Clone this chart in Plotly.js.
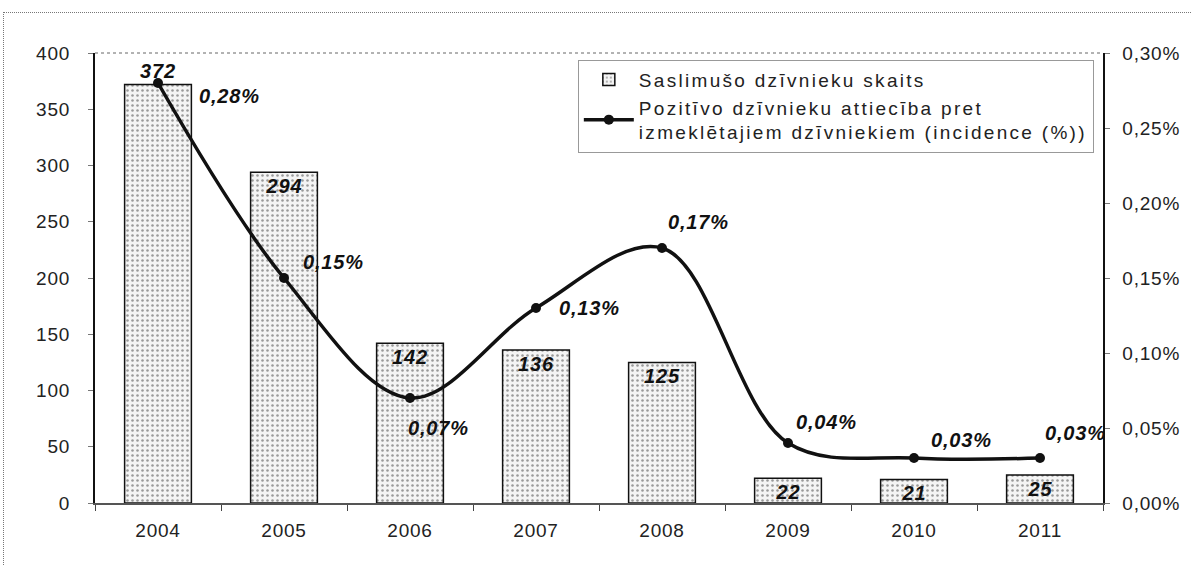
<!DOCTYPE html>
<html><head><meta charset="utf-8">
<script src="https://cdn.plot.ly/plotly-3.0.1.min.js"></script>
<style>
html,body{margin:0;padding:0;background:#fff;}
#frame{position:absolute;left:3px;top:12px;width:1189px;height:554px;border-top:1px dotted #777;border-left:1px dotted #777;pointer-events:none;}
#chart{width:1192px;height:566px;}
svg text{letter-spacing:0.8px;}
svg text.legendtext{letter-spacing:2.3px;}
</style>
</head><body>
<div id="chart"></div>
<div id="frame"></div>
<script>
const years = ['2004','2005','2006','2007','2008','2009','2010','2011'];
const sickAnimals = [372, 294, 142, 136, 125, 22, 21, 25];
const incidence = [0.0028, 0.0015, 0.0007, 0.0013, 0.0017, 0.0004, 0.0003, 0.0003];
const incidenceLabels = ['0,28%','0,15%','0,07%','0,13%','0,17%','0,04%','0,03%','0,03%'];
const barName = 'Saslimušo dzīvnieku skaits';
const lineName = 'Pozitīvo dzīvnieku attiecība pret<br>izmeklētajiem dzīvniekiem (incidence (%))';

const FONT = 'Liberation Sans, Arial, sans-serif';
const labelFont = {family: FONT, size: 20, color: '#111', weight: 'bold', style: 'italic'};
const tickFont = {family: FONT, size: 19, color: '#222'};

const barTrace = {
  type: 'bar', x: years, y: sickAnimals, name: barName,
  width: 0.53,
  marker: {color: '#e8e8e8', line: {color: '#111', width: 1.5},
    pattern: {shape: '.', fgcolor: '#999', bgcolor: '#f4f4f4', size: 5, solidity: 0.2}},
  text: sickAnimals.map(String),
  textposition: sickAnimals.map((v,i)=> i===0 ? 'outside' : 'inside'),
  insidetextanchor: 'end',
  textangle: 0,
  constraintext: 'none',
  cliponaxis: false,
  textfont: labelFont,
  hoverinfo: 'skip'
};

const lineTrace = {
  type: 'scatter', mode: 'lines+markers', x: years, y: incidence, yaxis: 'y2', name: lineName,
  line: {color: '#111', width: 3.5, shape: 'spline', smoothing: 1},
  marker: {color: '#111', size: 10},
  cliponaxis: false,
  hoverinfo: 'skip'
};

// label offsets (pixels) for the incidence labels
const offX = [71, 49, 28, 53, 36, 38, 47, 35];
const offY = [-13, 16, -30, 0, 26, 21, 18, 25];
const annotations = years.map((yr, i) => ({
  x: i, y: incidence[i], xref: 'x', yref: 'y2',
  text: incidenceLabels[i], showarrow: false,
  xshift: offX[i], yshift: offY[i], font: labelFont
}));

const layout = {
  width: 1192, height: 566,
  margin: {l: 95, r: 89, t: 53, b: 63},
  paper_bgcolor: '#fff', plot_bgcolor: '#fff',
  separators: ', ',
  font: {family: FONT, size: 19, color: '#222'},
  showlegend: true,
  legend: {
    x: 0.479, y: 0.985, xanchor: 'left', yanchor: 'top',
    bgcolor: '#fff', bordercolor: '#999', borderwidth: 1,
    font: {family: FONT, size: 19, color: '#222'},
    tracegroupgap: 4, itemwidth: 50
  },
  xaxis: {
    type: 'category', range: [-0.5, 7.5], showline: true, linecolor: '#555', linewidth: 1.5,
    ticks: 'outside', tickson: 'boundaries', ticklen: 6, tickcolor: '#444', tickangle: 0,
    ticklabelstandoff: 10,
    showgrid: false, mirror: false, zeroline: false,
    tickfont: tickFont
  },
  yaxis: {
    range: [0, 400], dtick: 50, showline: true, linecolor: '#111', linewidth: 2,
    ticks: 'outside', ticklen: 5, tickcolor: '#777', showgrid: false, zeroline: false,
    ticklabelstandoff: 14,
    tickfont: tickFont
  },
  yaxis2: {
    overlaying: 'y', side: 'right', range: [0, 0.003], dtick: 0.0005,
    tickformat: '.2%', showline: true, linecolor: '#111', linewidth: 1.5,
    ticks: 'outside', ticklen: 5, tickcolor: '#777', showgrid: false, zeroline: false,
    ticklabelstandoff: 9,
    tickfont: tickFont
  },
  shapes: [
    {type: 'line', xref: 'paper', yref: 'paper', x0: 0, x1: 1, y0: 1, y1: 1,
     line: {color: '#666', width: 1, dash: 'dot'}}
  ],
  annotations: annotations
};

Plotly.newPlot('chart', [barTrace, lineTrace], layout, {displayModeBar: false, staticPlot: true});
</script>
</body></html>
